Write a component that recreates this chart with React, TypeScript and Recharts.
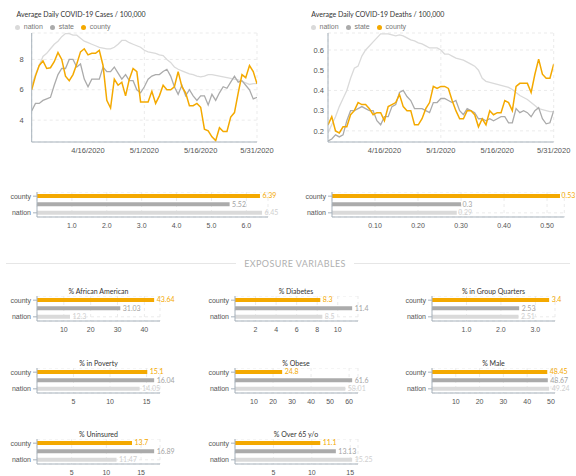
import React from 'react';
import { LineChart, Line, XAxis, YAxis, CartesianGrid, BarChart, Bar, Cell, LabelList } from 'recharts';

const dates = [
  '4/1/2020','4/2/2020','4/3/2020','4/4/2020','4/5/2020','4/6/2020','4/7/2020','4/8/2020','4/9/2020','4/10/2020',
  '4/11/2020','4/12/2020','4/13/2020','4/14/2020','4/15/2020','4/16/2020','4/17/2020','4/18/2020','4/19/2020','4/20/2020',
  '4/21/2020','4/22/2020','4/23/2020','4/24/2020','4/25/2020','4/26/2020','4/27/2020','4/28/2020','4/29/2020','4/30/2020',
  '5/1/2020','5/2/2020','5/3/2020','5/4/2020','5/5/2020','5/6/2020','5/7/2020','5/8/2020','5/9/2020','5/10/2020',
  '5/11/2020','5/12/2020','5/13/2020','5/14/2020','5/15/2020','5/16/2020','5/17/2020','5/18/2020','5/19/2020','5/20/2020',
  '5/21/2020','5/22/2020','5/23/2020','5/24/2020','5/25/2020','5/26/2020','5/27/2020','5/28/2020','5/29/2020','5/30/2020',
  '5/31/2020',
];
const dateTickIdx = [15, 30, 45, 60];

const casesCounty = [6.0,6.9,7.6,7.9,7.4,7.45,7.85,8.45,8.0,6.9,6.6,7.0,7.7,8.5,8.7,8.3,8.4,8.4,8.6,7.6,5.3,4.8,6.7,6.3,6.5,5.6,6.7,7.4,7.2,5.2,5.2,5.2,5.9,5.1,5.6,6.3,6.0,6.0,6.2,7.2,6.2,5.8,4.95,4.95,5.1,4.85,3.4,3.3,2.9,2.65,3.5,3.25,3.25,4.2,4.5,5.8,7.0,6.8,7.6,7.2,6.4];
const casesState = [4.6,5.1,5.1,5.3,5.4,5.5,6.3,7.0,7.4,7.4,8.0,8.0,7.5,7.7,6.7,6.2,6.7,6.7,6.7,7.5,7.2,7.2,7.5,7.1,6.7,7.0,6.6,6.6,6.0,5.8,6.2,6.7,6.9,7.0,7.0,7.2,7.35,6.9,6.2,5.7,6.3,5.6,6.0,5.6,5.3,5.6,5.6,5.0,5.7,5.3,5.8,6.2,6.1,6.5,6.9,6.5,6.6,6.3,6.0,5.4,5.5];
const casesNation = [6.3,7.0,7.6,8.2,8.4,8.7,9.0,9.2,9.5,9.7,9.7,9.6,9.6,9.4,9.2,9.1,9.0,8.9,8.8,8.75,8.7,8.7,8.8,9.0,9.25,9.25,9.1,9.0,8.9,8.8,8.6,8.5,8.45,8.4,8.3,8.25,8.0,7.8,7.5,7.35,7.25,7.15,7.05,7.0,6.9,6.85,6.9,7.0,7.0,6.95,6.9,6.85,6.8,6.75,6.7,6.65,6.55,6.45,6.35,6.4,6.4];

const deathsCounty = [0.23,0.27,0.2,0.19,0.22,0.22,0.28,0.3,0.34,0.33,0.33,0.31,0.28,0.29,0.29,0.25,0.32,0.33,0.34,0.38,0.32,0.3,0.3,0.23,0.23,0.26,0.31,0.34,0.42,0.41,0.42,0.42,0.41,0.35,0.3,0.26,0.26,0.3,0.3,0.28,0.22,0.26,0.23,0.3,0.28,0.29,0.29,0.35,0.34,0.3,0.42,0.435,0.435,0.435,0.39,0.48,0.555,0.48,0.46,0.46,0.53];
const deathsState = [0.15,0.16,0.18,0.17,0.18,0.25,0.3,0.3,0.31,0.32,0.31,0.3,0.3,0.25,0.23,0.27,0.27,0.32,0.33,0.39,0.4,0.37,0.35,0.31,0.31,0.31,0.3,0.29,0.34,0.34,0.36,0.36,0.35,0.34,0.35,0.3,0.28,0.31,0.3,0.29,0.26,0.26,0.25,0.26,0.25,0.26,0.27,0.27,0.24,0.24,0.31,0.29,0.3,0.29,0.27,0.3,0.315,0.26,0.235,0.24,0.3];
const deathsNation = [0.19,0.23,0.27,0.32,0.36,0.4,0.46,0.51,0.52,0.57,0.6,0.62,0.64,0.66,0.68,0.68,0.68,0.675,0.67,0.675,0.67,0.66,0.65,0.645,0.635,0.63,0.62,0.61,0.61,0.61,0.6,0.58,0.58,0.57,0.56,0.555,0.55,0.54,0.53,0.52,0.5,0.46,0.445,0.44,0.435,0.43,0.425,0.42,0.415,0.405,0.39,0.375,0.365,0.355,0.34,0.325,0.31,0.305,0.3,0.295,0.295];

const categories = ['county', 'state', 'nation'];
const casesAvg = [6.39, 5.52, 6.45];
const deathsAvg = [0.53, 0.3, 0.29];
const africanAmerican = [43.64, 31.03, 12.3];
const diabetes = [8.3, 11.4, 8.5];
const groupQuarters = [3.4, 2.53, 2.51];
const poverty = [15.1, 16.04, 14.05];
const obese = [24.8, 61.6, 58.01];
const male = [48.45, 48.67, 49.24];
const uninsured = [13.7, 16.89, 11.47];
const over65 = [11.1, 13.13, 15.25];

const ORANGE = '#f4a900';
const STATE = '#ababab';
const NATION = '#dadada';
const barColors = [ORANGE, STATE, NATION];
const labelColors = [ORANGE, '#a3a3a3', '#cfcfcf'];
const AXIS = '#a7b2bc';
const GRID = '#ebebeb';
const TICK = '#555';
const SANS = '"Liberation Sans", Arial, sans-serif';
const TITLE_FONT = 'Lato, "Open Sans", sans-serif';

function Legend({ left, top }: { left: number; top: number }) {
  const items = [
    { name: 'nation', color: NATION, dx: 0 },
    { name: 'state', color: STATE, dx: 35 },
    { name: 'county', color: ORANGE, dx: 66 },
  ];
  return (
    <>
      {items.map((it) => (
        <div key={it.name} style={{ position: 'absolute', left: left + it.dx - 2.5, top: top - 5, height: 10, display: 'flex', alignItems: 'center' }}>
          <span style={{ display: 'inline-block', width: 5, height: 5, borderRadius: 3, background: it.color }} />
          <span style={{ marginLeft: 4, fontSize: 7, fontFamily: SANS, color: '#777', lineHeight: '10px' }}>{it.name}</span>
        </div>
      ))}
    </>
  );
}

function TrendChart(props: {
  left: number; width: number; yWidth: number; rightMargin: number; title: string;
  county: number[]; state: number[]; nation: number[]; domain: [number, number]; ticks: number[];
  fmt: (v: number) => string; tickSize: number; tickMargin: number;
}) {
  const rows = dates.map((d, i) => ({ day: i, date: d, county: props.county[i], state: props.state[i], nation: props.nation[i] }));
  return (
    <div style={{ position: 'absolute', left: props.left, top: 0 }}>
      <LineChart width={props.width} height={170} data={rows} margin={{ top: 33, right: props.rightMargin, bottom: 0, left: 0 }}>
        <CartesianGrid stroke={GRID} strokeDasharray="3 3" />
        <XAxis type="number" dataKey="day" domain={[0, 60]} ticks={dateTickIdx} tickFormatter={(v: number) => dates[v]} height={28}
          stroke={AXIS} tick={{ fontSize: 7.5, fill: TICK, fontFamily: SANS }} tickLine={false} tickSize={4} tickMargin={2} allowDataOverflow />
        <YAxis type="number" domain={props.domain} ticks={props.ticks} tickFormatter={props.fmt} width={props.yWidth}
          stroke={AXIS} tick={{ fontSize: 7.5, fill: TICK, fontFamily: SANS }} tickLine={false} tickSize={props.tickSize} tickMargin={props.tickMargin} allowDataOverflow />
        <Line dataKey="nation" stroke={NATION} strokeWidth={1.3} dot={false} isAnimationActive={false} />
        <Line dataKey="state" stroke={STATE} strokeWidth={1.3} dot={false} isAnimationActive={false} />
        <Line dataKey="county" stroke={ORANGE} strokeWidth={1.5} dot={false} isAnimationActive={false} />
      </LineChart>
    </div>
  );
}

function CompareBars(props: {
  axisX: number; stateY: number; plotWidth: number; domainMax: number; ticks: number[];
  fmt: (v: number) => string; values: number[]; title?: string; labelGap?: number;
}) {
  const rows = categories.map((c, i) => ({ name: c, value: props.values[i] }));
  const yW = 37;
  const plotH = 25;
  const plotTop = props.stateY - plotH / 2;
  const gap = props.labelGap ?? 2.5;
  const renderLabel = (p: any) => {
    const x = Number(p.x) + Number(p.width) + gap;
    const y = Number(p.y) + Number(p.height) / 2;
    return (
      <text x={x} y={y} dy="0.35em" fill={labelColors[p.index] || '#999'} fontSize={7} fontFamily={TITLE_FONT}>
        {p.value}
      </text>
    );
  };
  return (
    <>
      {props.title && (
        <div style={{ position: 'absolute', left: props.axisX, width: props.plotWidth, top: props.stateY - 17.5 - 5, height: 10, lineHeight: '10px',
          textAlign: 'center', fontSize: 7, fontFamily: TITLE_FONT, color: '#333', whiteSpace: 'nowrap' }}>{props.title}</div>
      )}
      <div style={{ position: 'absolute', left: props.axisX - yW, top: plotTop }}>
        <BarChart layout="vertical" width={yW + props.plotWidth + 30} height={plotH + 20} data={rows} barSize={4}
          margin={{ top: 0, right: 30, bottom: 0, left: 0 }}>
          <CartesianGrid stroke={GRID} strokeDasharray="3 3" />
          <XAxis type="number" domain={[0, props.domainMax]} ticks={props.ticks} tickFormatter={props.fmt} height={20} allowDataOverflow
            stroke={AXIS} tick={{ fontSize: 7, fill: TICK, fontFamily: SANS }} tickLine={false} tickSize={4} tickMargin={2} />
          <YAxis type="category" dataKey="name" width={yW} stroke={AXIS} tick={{ fontSize: 7, fill: TICK, fontFamily: SANS }}
            tickLine={{ stroke: AXIS }} tickSize={4} tickMargin={2} />
          <Bar dataKey="value" isAnimationActive={false}>
            {rows.map((r, i) => <Cell key={r.name} fill={barColors[i]} />)}
            <LabelList dataKey="value" content={renderLabel} />
          </Bar>
        </BarChart>
      </div>
    </>
  );
}

const int = (v: number) => String(v);
const f1 = (v: number) => v.toFixed(1);
const f2 = (v: number) => v.toFixed(2);

export default function App() {
  const colX = [37, 234.5, 432];
  const rowY = [308.3, 380.3, 451.8];
  const smallW = 123;
  return (
    <div style={{ position: 'absolute', left: 0, top: 0, width: 576, height: 476, background: '#fff', overflow: 'hidden' }}>
      <div style={{ position: 'absolute', left: 16.5, top: 9, lineHeight: '10px', fontSize: 7, fontFamily: TITLE_FONT, color: '#333', whiteSpace: 'nowrap' }}>
        Average Daily COVID-19 Cases / 100,000
      </div>
      <Legend left={17.3} top={27.3} />
      <TrendChart left={0} width={290} yWidth={31.7} rightMargin={33} title="cases" county={casesCounty} state={casesState} nation={casesNation}
        domain={[2.56, 9.74]} ticks={[4, 6, 8]} fmt={int} tickSize={4} tickMargin={4} />

      <div style={{ position: 'absolute', left: 311.3, top: 9, lineHeight: '10px', fontSize: 7, fontFamily: TITLE_FONT, color: '#333', whiteSpace: 'nowrap' }}>
        Average Daily COVID-19 Deaths / 100,000
      </div>
      <Legend left={313} top={27.3} />
      <TrendChart left={288} width={288} yWidth={40} rightMargin={22.3} title="deaths" county={deathsCounty} state={deathsState} nation={deathsNation}
        domain={[0.145, 0.684]} ticks={[0.2, 0.3, 0.4, 0.5, 0.6]} fmt={f1} tickSize={2} tickMargin={2} />

      <CompareBars axisX={36.8} stateY={204.7} plotWidth={231} domainMax={6.62} ticks={[1, 2, 3, 4, 5, 6]} fmt={f1} values={casesAvg} />
      <CompareBars axisX={331.7} stateY={204.7} plotWidth={232.3} domainMax={0.54} ticks={[0.1, 0.2, 0.3, 0.4, 0.5]} fmt={f2} values={deathsAvg} labelGap={1.5} />

      <div style={{ position: 'absolute', left: 6, width: 230, top: 263, height: 1, background: '#e6e6e6' }} />
      <div style={{ position: 'absolute', left: 354, width: 216, top: 263, height: 1, background: '#e6e6e6' }} />
      <div style={{ position: 'absolute', left: 236, width: 118, top: 257, height: 14, lineHeight: '14px', textAlign: 'center', fontSize: 9, letterSpacing: 0.4,
        fontFamily: TITLE_FONT, color: '#b0b0b0', whiteSpace: 'nowrap' }}>EXPOSURE VARIABLES</div>

      <CompareBars axisX={colX[0]} stateY={rowY[0]} plotWidth={smallW} domainMax={africanAmerican[0] * 1.05} ticks={[10, 20, 30, 40]} fmt={int} values={africanAmerican} title="% African American" />
      <CompareBars axisX={colX[1]} stateY={rowY[0]} plotWidth={smallW} domainMax={diabetes[1] * 1.05} ticks={[2, 4, 6, 8, 10]} fmt={int} values={diabetes} title="% Diabetes" />
      <CompareBars axisX={colX[2]} stateY={rowY[0]} plotWidth={smallW} domainMax={groupQuarters[0] * 1.05} ticks={[1, 2, 3]} fmt={f1} values={groupQuarters} title="% in Group Quarters" />

      <CompareBars axisX={colX[0]} stateY={rowY[1]} plotWidth={smallW} domainMax={poverty[1] * 1.05} ticks={[5, 10, 15]} fmt={int} values={poverty} title="% in Poverty" />
      <CompareBars axisX={colX[1]} stateY={rowY[1]} plotWidth={smallW} domainMax={obese[1] * 1.05} ticks={[10, 20, 30, 40, 50, 60]} fmt={int} values={obese} title="% Obese" />
      <CompareBars axisX={colX[2]} stateY={rowY[1]} plotWidth={smallW} domainMax={male[2] * 1.05} ticks={[10, 20, 30, 40, 50]} fmt={int} values={male} title="% Male" />

      <CompareBars axisX={colX[0]} stateY={rowY[2]} plotWidth={smallW} domainMax={uninsured[1] * 1.05} ticks={[5, 10, 15]} fmt={int} values={uninsured} title="% Uninsured" />
      <CompareBars axisX={colX[1]} stateY={rowY[2]} plotWidth={smallW} domainMax={over65[2] * 1.05} ticks={[5, 10, 15]} fmt={int} values={over65} title="% Over 65 y/o" />
    </div>
  );
}
